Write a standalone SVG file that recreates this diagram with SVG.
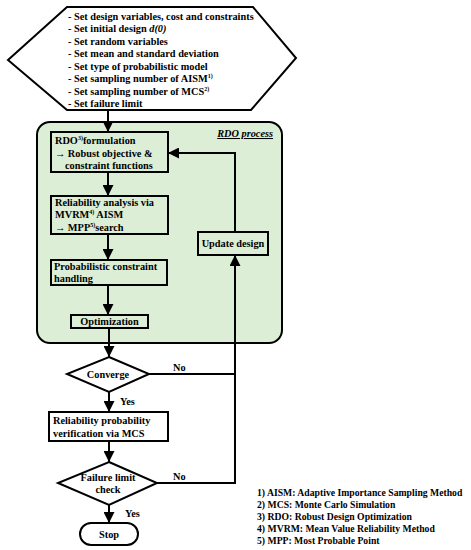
<svg xmlns="http://www.w3.org/2000/svg" width="471" height="550" viewBox="0 0 471 550">
<style>
text{font-family:"Liberation Serif","Times New Roman",serif;font-weight:bold;font-size:10.3px;fill:#000}
.box{fill:#dcefd6;stroke:#000;stroke-width:2}
.w{fill:#fff;stroke:#000;stroke-width:2}
.ln{fill:none;stroke:#000;stroke-width:2}
.c{text-anchor:middle}
.s{font-size:6px}
.n{font-size:9.7px}
</style>
<defs>
<marker id="ah" viewBox="0 0 10 10" refX="10" refY="5" markerWidth="5.5" markerHeight="5.5" orient="auto" markerUnits="strokeWidth">
<path d="M0,0 L10,5 L0,10 z" fill="#000"/>
</marker>
</defs>
<rect width="471" height="550" fill="#fff"/>
<g id="start">
<polygon class="w" points="67,7 253,7 296,58 251,110 67,110 8,60"/>
<text x="68" y="20">- Set design variables, cost and constraints</text>
<text x="68" y="32">- Set initial design <tspan font-style="italic">d(0)</tspan></text>
<text x="68" y="45">- Set random variables</text>
<text x="68" y="57">- Set mean and standard deviation</text>
<text x="68" y="70">- Set type of probabilistic model</text>
<text x="68" y="82">- Set sampling number of AISM<tspan class="s" dy="-4">1)</tspan></text>
<text x="68" y="95">- Set sampling number of MCS<tspan class="s" dy="-4">2)</tspan></text>
<text x="68" y="107">- Set failure limit</text>
</g>
<g id="rdo-process">
<rect class="box" x="37" y="122" width="245" height="221" rx="13"/>
<text x="273" y="137" text-anchor="end" font-style="italic" font-size="11" text-decoration="underline">RDO process</text>
</g>
<g id="rdo-formulation">
<rect class="box" x="51" y="132" width="117" height="40"/>
<text x="55" y="144">RDO<tspan class="s" dy="-4">3)</tspan><tspan dy="4">formulation</tspan></text>
<text x="55" y="157">→ Robust objective &amp;</text>
<text x="65" y="169">constraint functions</text>
</g>
<g id="reliability-analysis">
<rect class="box" x="51" y="196" width="117" height="38"/>
<text x="55" y="206">Reliability analysis via</text>
<text x="55" y="218">MVRM<tspan class="s" dy="-4">4)</tspan><tspan dy="4"> AISM</tspan></text>
<text x="55" y="231">→ MPP<tspan class="s" dy="-4">5)</tspan><tspan dy="4">search</tspan></text>
</g>
<g id="probabilistic-constraint">
<rect class="box" x="51" y="260" width="116" height="25"/>
<text x="54" y="270">Probabilistic constraint</text>
<text x="54" y="282">handling</text>
</g>
<g id="optimization">
<rect class="box" x="71" y="315" width="77" height="13"/>
<text class="c" x="109.5" y="325">Optimization</text>
</g>
<g id="update-design">
<rect class="box" x="198" y="232" width="70" height="23"/>
<text class="c" x="233" y="247">Update design</text>
</g>
<g id="converge">
<polygon class="w" points="109,357 149,374 109,392 67,374"/>
<text class="c" x="108" y="378">Converge</text>
</g>
<g id="verification">
<rect class="w" x="49" y="412" width="119" height="29"/>
<text x="53" y="424">Reliability probability</text>
<text x="53" y="437">verification via MCS</text>
</g>
<g id="failure-check">
<polygon class="w" points="109,462 157,483 109,505 58,483"/>
<text class="c" x="108" y="481">Failure limit</text>
<text class="c" x="108" y="493">check</text>
</g>
<g id="stop">
<rect class="w" x="80" y="523" width="58" height="22" rx="11"/>
<text class="c" x="109" y="538">Stop</text>
</g>
<g id="connectors">
<line class="ln" x1="108" y1="110" x2="108" y2="132" marker-end="url(#ah)"/>
<line class="ln" x1="108" y1="172" x2="108" y2="196" marker-end="url(#ah)"/>
<line class="ln" x1="108" y1="234" x2="108" y2="260" marker-end="url(#ah)"/>
<line class="ln" x1="108" y1="285" x2="108" y2="315" marker-end="url(#ah)"/>
<line class="ln" x1="109" y1="328" x2="109" y2="357" marker-end="url(#ah)"/>
<line class="ln" x1="109" y1="392" x2="109" y2="412" marker-end="url(#ah)"/>
<line class="ln" x1="109" y1="441" x2="109" y2="462" marker-end="url(#ah)"/>
<line class="ln" x1="109" y1="505" x2="109" y2="523" marker-end="url(#ah)"/>
<polyline class="ln" points="235,232 235,153 168,153" marker-end="url(#ah)"/>
<polyline class="ln" points="157,483 235,483 235,255" marker-end="url(#ah)"/>
<line class="ln" x1="149" y1="374" x2="235" y2="374"/>
<text x="173" y="371">No</text>
<text x="173" y="480">No</text>
<text x="120" y="405">Yes</text>
<text x="125" y="517">Yes</text>
</g>
<g id="notes">
<text class="n" x="257" y="496">1) AISM: Adaptive Importance Sampling Method</text>
<text class="n" x="257" y="508">2) MCS: Monte Carlo Simulation</text>
<text class="n" x="257" y="520">3) RDO: Robust Design Optimization</text>
<text class="n" x="257" y="532">4) MVRM: Mean Value Reliability Method</text>
<text class="n" x="257" y="544">5) MPP: Most Probable Point</text>
</g>
</svg>
